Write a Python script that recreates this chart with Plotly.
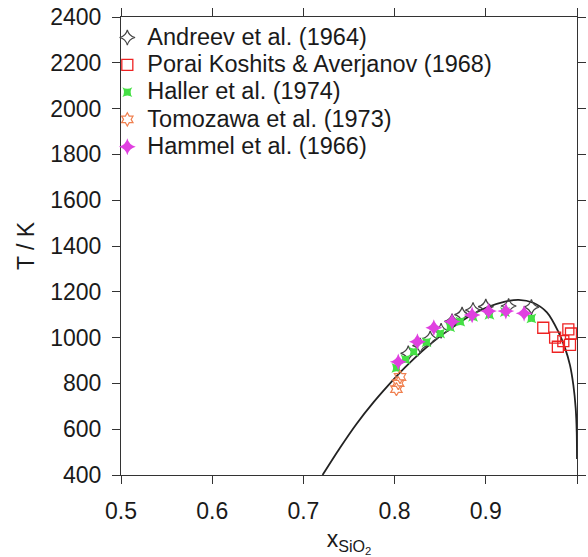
import plotly.graph_objects as go

# ---- data ----
andreev_x = [0.815, 0.828, 0.839, 0.851, 0.863, 0.874, 0.886, 0.900, 0.925, 0.950]
andreev_T = [931, 965, 996, 1030, 1071, 1100, 1120, 1135, 1138, 1133]

porai_x = [0.963, 0.976, 0.979, 0.985, 0.9905, 0.9934, 0.9923]
porai_T = [1043, 1000, 960, 985, 1036, 1018, 968]

haller_x = [0.802, 0.812, 0.821, 0.835, 0.850, 0.861, 0.872, 0.886, 0.904, 0.921, 0.950]
haller_T = [868, 905, 938, 980, 1018, 1045, 1070, 1091, 1100, 1112, 1084]

tomozawa_x = [0.806, 0.804, 0.802]
tomozawa_T = [828, 801, 775]

hammel_x = [0.804, 0.825, 0.843, 0.863, 0.885, 0.903, 0.922, 0.942]
hammel_T = [894, 982, 1043, 1070, 1099, 1116, 1116, 1106]

curve_x = [0.721, 0.740, 0.758, 0.777, 0.795, 0.812, 0.830, 0.848, 0.866, 0.884,
           0.902, 0.920, 0.936, 0.952, 0.967, 0.9795, 0.987, 0.9923, 0.996, 0.9986,
           0.9997, 1.0]
curve_T = [400, 518, 622, 718, 800, 872, 940, 1000, 1052, 1098,
           1133, 1156, 1165, 1152, 1110, 1026, 953, 880, 793, 690,
           588, 470]

x_ticks = [0.5, 0.6, 0.7, 0.8, 0.9, 1.0]
y_ticks = [400, 600, 800, 1000, 1200, 1400, 1600, 1800, 2000, 2200, 2400]

FONT = "Liberation Sans, Arial, Helvetica, sans-serif"
TXT = "#1a1a1a"
AX = "#333333"


def lbl(s):
    return '<span style="font-size:23.5px">' + s + '</span>'


fig = go.Figure()

fig.add_trace(go.Scatter(
    x=curve_x, y=curve_T, mode="lines",
    line=dict(color="#222222", width=1.8, shape="spline", smoothing=0.8),
    showlegend=False, hoverinfo="skip"))

fig.add_trace(go.Scatter(
    x=andreev_x, y=andreev_T, mode="markers", name=lbl("Andreev et al. (1964)"),
    marker=dict(symbol="star-diamond-open", size=11, color="#444444", line=dict(width=1.2))))
fig.add_trace(go.Scatter(
    x=porai_x, y=porai_T, mode="markers", name=lbl("Porai Koshits &amp; Averjanov (1968)"),
    marker=dict(symbol="square-open", size=11, color="#ee2222", line=dict(width=1.3))))
fig.add_trace(go.Scatter(
    x=haller_x, y=haller_T, mode="markers", name=lbl("Haller et al. (1974)"),
    marker=dict(symbol="star-square", size=9, color="#44e044", line=dict(width=0))))
fig.add_trace(go.Scatter(
    x=tomozawa_x, y=tomozawa_T, mode="markers", name=lbl("Tomozawa et al. (1973)"),
    marker=dict(symbol="hexagram-open", size=10, color="#f08050", line=dict(width=1.2))))
fig.add_trace(go.Scatter(
    x=hammel_x, y=hammel_T, mode="markers", name=lbl("Hammel et al. (1966)"),
    marker=dict(symbol="star-diamond", size=12, color="#e040e0", line=dict(width=0))))

axis_common = dict(
    showline=True, mirror="ticks", linecolor=AX, linewidth=1.2,
    ticks="outside", ticklen=8, tickwidth=1.2, tickcolor=AX,
    showgrid=False, zeroline=False,
    tickfont=dict(family=FONT, size=23, color=TXT),
)

fig.update_layout(
    width=588, height=557,
    margin=dict(l=121, r=11, t=17, b=82, autoexpand=False),
    paper_bgcolor="white", plot_bgcolor="white",
    font=dict(family=FONT, color=TXT),
    xaxis=dict(axis_common, range=[0.5, 1.0], tickvals=x_ticks,
               ticktext=[f"{v:.1f}" for v in x_ticks],
               ticklabelstandoff=7,
               title=dict(text="x<sub>SiO<sub>2</sub></sub>",
                          font=dict(family=FONT, size=23, color=TXT), standoff=8)),
    yaxis=dict(axis_common, range=[400, 2400], tickvals=y_ticks,
               ticklabelstandoff=6,
               title=dict(text="T / K", font=dict(family=FONT, size=23, color=TXT), standoff=9)),
    legend=dict(x=-0.03, y=0.996, xanchor="left", yanchor="top",
                bgcolor="rgba(0,0,0,0)", borderwidth=0,
                font=dict(family=FONT, size=18.7, color=TXT)),
    showlegend=True,
)

fig.write_html("out.html")
